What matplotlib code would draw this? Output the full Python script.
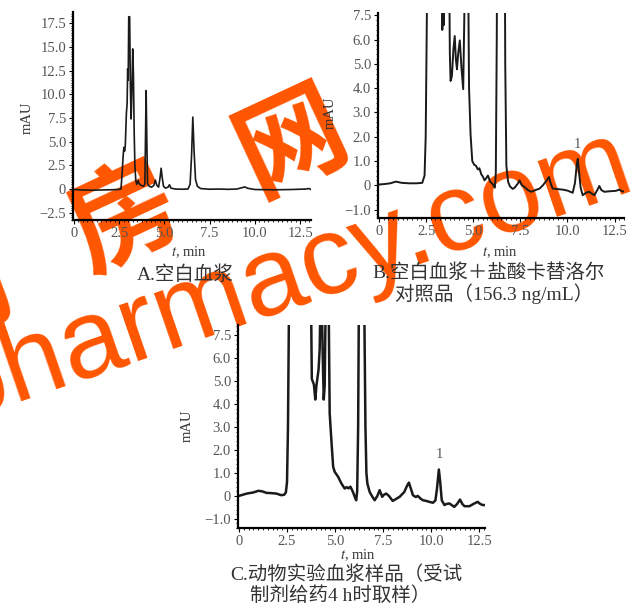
import matplotlib
matplotlib.use("Agg")
import matplotlib.pyplot as plt
from matplotlib.ticker import MultipleLocator

plt.rcParams['font.family'] = ['Liberation Serif', 'Noto Sans CJK SC']
plt.rcParams['mathtext.fontset'] = 'stix'
plt.rcParams['axes.unicode_minus'] = True

# A: blank plasma
a_time = [0.0, 0.5, 1.0, 1.5, 2.0, 2.4, 2.6, 2.66, 2.72, 2.76, 2.8, 2.84, 2.9, 2.94, 2.97,
          3.0, 3.03, 3.08, 3.12, 3.16, 3.2, 3.25, 3.29, 3.33, 3.37, 3.42, 3.47, 3.55, 3.6,
          3.7, 3.85, 3.92, 3.96, 3.99, 4.03, 4.07, 4.15, 4.3, 4.42, 4.5, 4.58, 4.68, 4.76,
          4.82, 4.88, 4.95, 5.05, 5.2, 5.28, 5.36, 5.6, 6.0, 6.3, 6.42, 6.5, 6.57, 6.64,
          6.72, 6.82, 7.0, 7.5, 8.0, 8.5, 9.0, 9.3, 9.45, 9.6, 10.0, 11.0, 12.0, 12.8,
          13.0, 13.1]
a_mau = [-0.05, -0.1, -0.12, -0.1, -0.08, -0.05, 0.0, 1.5, 3.5, 4.4, 4.0, 4.6, 8.0, 9.0, 12.7,
         11.5, 18.2, 18.2, 11.0, 7.4, 10.0, 14.8, 12.0, 6.0, 2.5, 0.9, 0.5, 0.9, 0.6,
         0.4, 0.3, 0.5, 6.0, 10.4, 5.0, 0.6, 0.3, 0.2, 0.4, 0.95, 0.4, 0.2, 1.2,
         2.2, 1.2, 0.3, 0.1, 0.2, 0.45, 0.1, 0.0, -0.02, 0.0, 0.5, 3.5, 7.6, 4.0,
         1.0, 0.3, 0.05, -0.02, 0.0, -0.03, 0.0, 0.15, 0.22, 0.08, -0.05, -0.08, -0.05, 0.0,
         0.05, -0.05]

# B: blank plasma + carteolol reference
b_time = [0.0, 0.3, 0.6, 0.9, 1.2, 1.6, 2.0, 2.3, 2.42, 2.48, 2.53, 2.6, 3.0, 3.3, 3.36,
          3.4, 3.44, 3.48, 3.55, 3.7, 3.76, 3.8, 3.87, 3.95, 4.02, 4.08, 4.14, 4.2, 4.29,
          4.38, 4.47, 4.53, 4.6, 4.7, 4.78, 4.86, 4.95, 5.05, 5.15, 5.25, 5.33, 5.43, 5.52,
          5.6, 5.7, 5.78, 5.9, 6.03, 6.15, 6.2, 6.25, 6.3, 6.65, 6.7, 6.76, 6.85, 6.95,
          7.1, 7.2, 7.35, 7.46, 7.58, 7.72, 7.9, 8.08, 8.3, 8.52, 8.7, 8.9, 9.02, 9.12,
          9.22, 9.5, 9.75, 10.0, 10.28, 10.4, 10.5, 10.55, 10.62, 10.7, 10.81, 11.0, 11.16,
          11.3, 11.43, 11.58, 11.69, 11.8, 11.96, 12.2, 12.4, 12.57, 12.75, 12.9, 13.1]
b_mau = [0.03, 0.05, 0.08, 0.15, 0.1, 0.08, 0.08, 0.1, 0.4, 2.0, 6.0, 12.0, 30.0, 9.0, 6.4,
         7.0, 6.6, 8.0, 12.0, 12.0, 5.5, 4.3, 4.5, 5.6, 6.15, 5.2, 4.78, 5.4, 5.97,
         4.8, 3.96, 7.0, 12.0, 12.0, 4.0, 2.1, 1.0, 0.85, 0.8, 0.65, 0.7, 0.45, 0.35,
         0.2, 0.3, 0.4, 0.15, 0.05, -0.1, 0.5, 6.0, 15.0, 15.0, 5.0, 0.8, 0.15, -0.05,
         -0.15, -0.1, 0.05, 0.2, 0.0, -0.07, -0.2, -0.27, -0.2, -0.14, 0.0, 0.2, 0.34, 0.05,
         -0.14, -0.16, -0.18, -0.22, -0.31, 0.1, 0.9, 1.09, 0.5, -0.1, -0.41, -0.3, -0.27,
         -0.35, -0.41, -0.2, -0.03, -0.2, -0.27, -0.25, -0.24, -0.23, -0.18, -0.25, -0.27]

# C: animal plasma sample, 4 h after dosing
c_time = [0.0, 0.4, 0.75, 1.0, 1.2, 1.44, 1.7, 1.95, 2.2, 2.35, 2.44, 2.5, 2.55, 2.6, 2.65,
          3.0, 3.6, 3.75, 3.79, 3.9, 3.97, 4.03, 4.14, 4.2, 4.25, 4.3, 4.36, 4.41, 4.46,
          4.52, 4.6, 4.66, 4.72, 4.81, 4.9, 4.98, 5.16, 5.33, 5.5, 5.6, 5.7, 5.8, 5.93,
          6.05, 6.1, 6.15, 6.2, 6.25, 6.5, 6.58, 6.63, 6.68, 6.8, 6.95, 7.06, 7.2, 7.32,
          7.45, 7.56, 7.66, 7.8, 8.0, 8.2, 8.36, 8.6, 8.75, 8.84, 8.95, 9.05, 9.2, 9.3,
          9.45, 9.57, 9.75, 9.9, 10.09, 10.22, 10.3, 10.4, 10.47, 10.55, 10.69, 10.8, 10.95,
          11.1, 11.2, 11.35, 11.5, 11.62, 11.73, 11.99, 12.2, 12.42, 12.55, 12.68, 12.85]
c_mau = [0.0, 0.1, 0.15, 0.22, 0.2, 0.13, 0.12, 0.1, 0.03, 0.05, 0.15, 0.6, 3.0, 8.0, 15.0,
         30.0, 30.0, 8.5, 5.1, 4.85, 4.2, 4.8, 5.5, 6.4, 9.0, 9.0, 6.0, 4.2, 4.8,
         9.0, 12.0, 9.0, 3.6, 2.4, 1.27, 1.05, 0.83, 0.54, 0.32, 0.38, 0.33, 0.4, 0.17,
         -0.1, -0.19, 0.2, 3.0, 10.0, 10.0, 3.0, 1.0, 0.54, 0.17, -0.05, -0.19, 0.0, 0.25,
         -0.04, 0.06, 0.1, 0.0, -0.22, -0.12, -0.04, 0.17, 0.45, 0.58, 0.3, 0.03, -0.05, 0.0,
         -0.12, -0.19, -0.22, -0.26, -0.3, -0.2, 0.3, 1.15, 0.6, -0.19, -0.4, -0.35, -0.33,
         -0.42, -0.48, -0.35, -0.16, -0.35, -0.45, -0.45, -0.35, -0.26, -0.35, -0.4, -0.4]

x_ticks = [0, 2.5, 5.0, 7.5, 10.0, 12.5]
x_ticklabels = ['0', '2.5', '5.0', '7.5', '10.0', '12.5']
a_yticks = [-2.5, 0, 2.5, 5.0, 7.5, 10.0, 12.5, 15.0, 17.5]
a_yticklabels = ['\u22122.5', '0', '2.5', '5.0', '7.5', '10.0', '12.5', '15.0', '17.5']
bc_yticks = [-1, 0, 1, 2, 3, 4, 5, 6, 7]
bc_yticklabels = ['\u22121.0', '0', '1.0', '2.0', '3.0', '4.0', '5.0', '6.0', '7.5']

W, H = 638, 608
fig = plt.figure(figsize=(W / 100, H / 100), dpi=100)


def fx(px):
    return px / W


def fy(py):
    return 1 - py / H


# watermark behind the charts
orange = '#ff5500'
for ch, (px, py) in zip(['药', '房', '网'], [(-42, 297), (125, 220), (292, 143)]):
    fig.text(fx(px), fy(py), ch, color=orange, fontsize=78, fontweight='bold',
             family=['Noto Sans CJK SC'], rotation=25, ha='center', va='center',
             rotation_mode='anchor', zorder=-1)
fig.text(fx(288), fy(276), 'pharmacy.com', color=orange, fontsize=80,
         family=['Liberation Sans'], rotation=19, ha='center', va='center',
         rotation_mode='anchor', zorder=-1)


def style_axis(ax, xlim, ylim, yticks, yticklabels, yminor):
    ax.set_facecolor('none')
    for s in ['top', 'right']:
        ax.spines[s].set_visible(False)
    for s in ['left', 'bottom']:
        ax.spines[s].set_linewidth(1.6)
    ax.set_xlim(*xlim)
    ax.set_ylim(*ylim)
    ax.set_xticks(x_ticks)
    ax.set_xticklabels(x_ticklabels)
    ax.set_yticks(yticks)
    ax.set_yticklabels(yticklabels)
    ax.xaxis.set_minor_locator(MultipleLocator(0.25))
    ax.yaxis.set_minor_locator(MultipleLocator(yminor))
    ax.tick_params(which='major', direction='out', length=3, width=0.8,
                   labelsize=10.5, labelcolor='#555555', pad=2)
    ax.tick_params(which='minor', direction='out', length=1.5, width=0.6)


ax_a = fig.add_axes([fx(73), fy(220), fx(238), 208 / H])
ax_a.plot(a_time, a_mau, color='#1a1a1a', lw=1.2)
style_axis(ax_a, (-0.05, 13.1), (-3.27, 18.7), a_yticks, a_yticklabels, 0.25)

ax_b = fig.add_axes([fx(378), fy(218), fx(246), 205 / H])
ax_b.plot(b_time, b_mau, color='#1a1a1a', lw=1.4)
style_axis(ax_b, (-0.05, 13.0), (-1.35, 7.1), bc_yticks, bc_yticklabels, 0.2)
ax_b.text(10.52, 1.4, '1', fontsize=10.5, color='#555555', ha='center', va='bottom')

ax_c = fig.add_axes([fx(238), fy(528), fx(247), 203 / H])
ax_c.plot(c_time, c_mau, color='#1a1a1a', lw=1.8)
style_axis(ax_c, (-0.05, 12.8), (-1.4, 7.45), bc_yticks, bc_yticklabels, 0.2)
ax_c.text(10.42, 1.5, '1', fontsize=10.5, color='#555555', ha='center', va='bottom')

# axis titles
for px, py in [(27, 118), (330, 113), (187, 426)]:
    fig.text(fx(px), fy(py), 'mAU', rotation=90, fontsize=10.5, color='#333333',
             ha='center', va='center')
for px, py in [(189, 252), (500, 252), (358, 555)]:
    fig.text(fx(px), fy(py), r'$t$, min', fontsize=10.5, color='#333333',
             ha='center', va='center')

# captions
cap = dict(fontsize=14, color='#333333', va='center', ha='left')
fig.text(fx(137), fy(275), 'A.空白血浆', **cap)
fig.text(fx(372), fy(273), 'B.空白血浆＋盐酸卡替洛尔', **cap)
fig.text(fx(395), fy(294), '对照品（156.3 ng/mL）', **cap)
fig.text(fx(230), fy(575), 'C.动物实验血浆样品（受试', **cap)
fig.text(fx(250), fy(596), '制剂给药4 h时取样）', **cap)

fig.savefig('out.png', dpi=100)
